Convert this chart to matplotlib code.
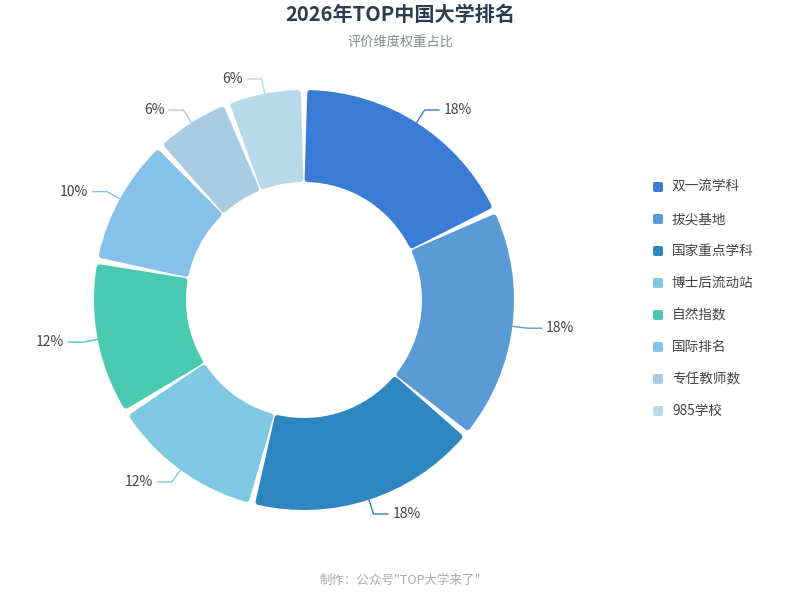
import numpy as np
import matplotlib
matplotlib.use('Agg')
import matplotlib.pyplot as plt
from matplotlib.patches import FancyBboxPatch

plt.rcParams['font.family'] = ['Noto Sans CJK SC', 'DejaVu Sans']

# Data
categories = ['双一流学科', '拔尖基地', '国家重点学科', '博士后流动站', '自然指数', '国际排名', '专任教师数', '985学校']
weights = [18, 18, 18, 12, 12, 10, 6, 6]
colors = ['#3a7bd5', '#5b9bd5', '#2e86c1', '#7ec8e3', '#48c9b0', '#85c1e9', '#a9cce3', '#b8d9ea']

title = '2026年TOP中国大学排名'
subtitle = '评价维度权重占比'
footer = '制作：公众号"TOP大学来了"'

W, H = 800, 600
fig = plt.figure(figsize=(W / 100, H / 100), dpi=100)
ax = fig.add_axes([0, 0, 1, 1])

cx, cy = 304, 300
r_out, r_in = 210, 118
lw_px = 6.0
gap_px = 3.0

wedges, _ = ax.pie(weights, colors=colors, startangle=90, counterclock=False,
                   center=(cx, cy), radius=r_out, wedgeprops=dict(width=r_out - r_in))

# pie() resets the limits, so set the pixel frame afterwards
ax.set_xlim(0, W)
ax.set_ylim(0, H)
ax.set_aspect('equal')
ax.axis('off')

# shrink each wedge and stroke it with its own colour to get rounded corners
r_ref = r_in + 0.35 * (r_out - r_in)
inset_deg = np.degrees((gap_px / 2 + lw_px / 2) / r_ref)
for w, c in zip(wedges, colors):
    t1, t2 = w.theta1, w.theta2
    w.set_theta1(t1 + inset_deg)
    w.set_theta2(t2 - inset_deg)
    w.set_radius(r_out - lw_px / 2)
    w.set_width(r_out - r_in - lw_px)
    w.set_edgecolor(c)
    w.set_linewidth(lw_px * 0.72)
    w.set_joinstyle('round')

    # label with leader line
    mid = np.radians((t1 + t2) / 2)
    dx, dy = np.cos(mid), np.sin(mid)
    p0 = (cx + r_out * dx, cy + r_out * dy)
    p1 = (cx + (r_out + 15) * dx, cy + (r_out + 15) * dy)
    side = 1 if dx >= 0 else -1
    p2 = (p1[0] + side * 15, p1[1])
    ax.plot([p0[0], p1[0], p2[0]], [p0[1], p1[1], p2[1]], color=c, lw=1, solid_capstyle='butt')
    pct = (t2 - t1) / 360 * 100
    ax.text(p2[0] + side * 4, p2[1], f'{pct:.0f}%', ha='left' if side > 0 else 'right',
            va='center', fontsize=10, color='#444444')

# legend
lx, ly0, step = 652, H - 187, 32
for i, (name, c) in enumerate(zip(categories, colors)):
    y = ly0 - i * step
    ax.add_patch(FancyBboxPatch((lx + 1, y - 5), 10, 10, boxstyle='round,pad=0,rounding_size=2',
                                fc=c, ec='none'))
    ax.text(lx + 20, y, name, ha='left', va='center', fontsize=9.8, color='#444444')

fig.text(0.5, 1 - 14 / H, title, ha='center', va='center', fontsize=14.5,
         fontweight='bold', color='#2c3e50')
fig.text(0.5, 1 - 42 / H, subtitle, ha='center', va='center', fontsize=9.5, color='#7f8c8d')
fig.text(0.5, 1 - 580 / H, footer, ha='center', va='center', fontsize=9, color='#aaaaaa')

fig.savefig('out.png', dpi=100)
